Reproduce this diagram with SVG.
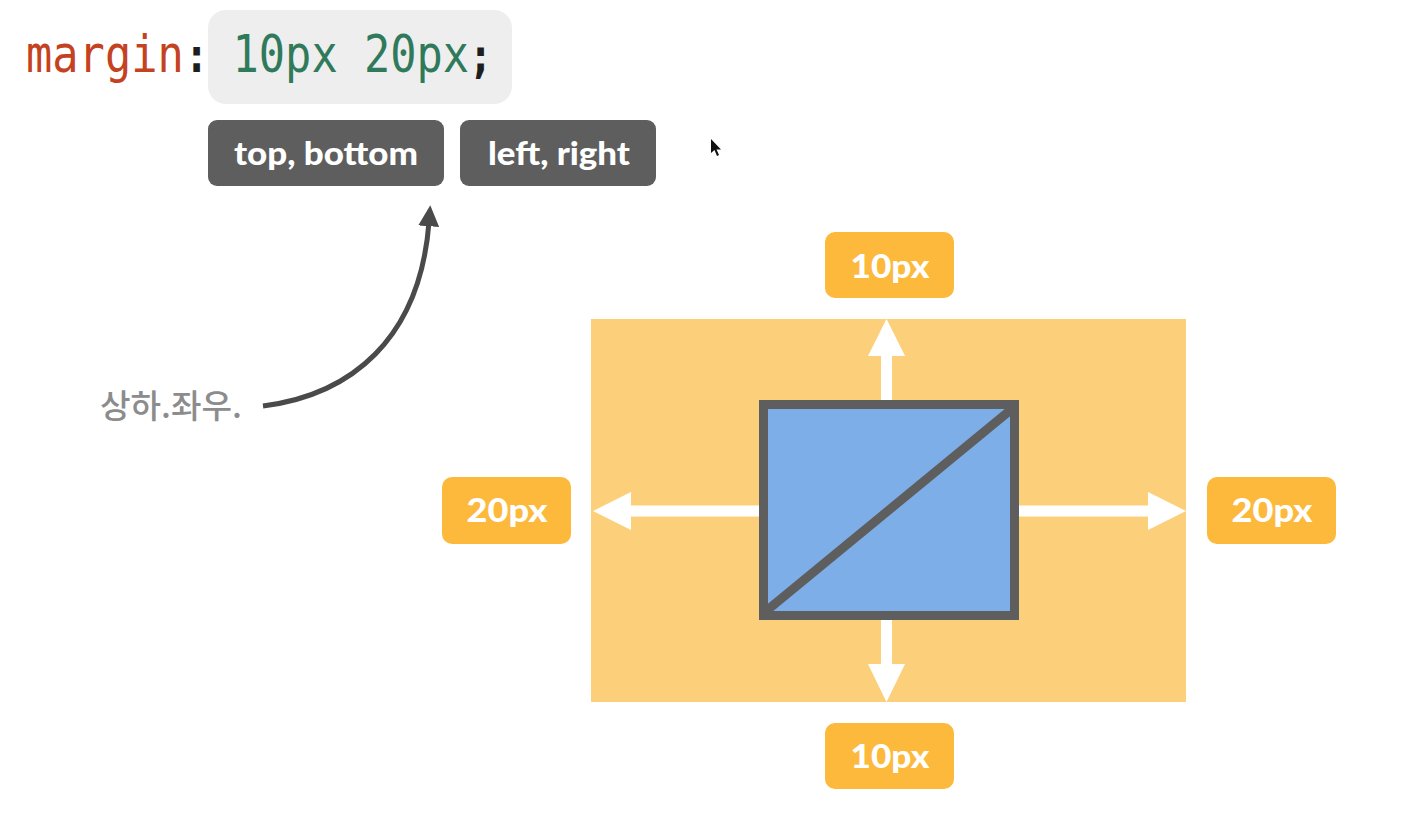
<svg xmlns="http://www.w3.org/2000/svg" width="1418" height="831" viewBox="0 0 1418 831">
<defs>
<style>
.code{font-family:"DejaVu Sans Mono","Liberation Mono",monospace;font-size:52px}
.punct{font-family:"DejaVu Sans Mono","Liberation Mono",monospace;font-size:48px;font-weight:bold;fill:#1e1e1e}
.tag{fill:#5e5e5e}
.tagt{font-family:Lato,"Noto Sans",sans-serif;font-weight:900;font-size:32px;fill:#ffffff;text-anchor:middle}
.lab{fill:#fcb93c}
.labt{font-family:Lato,"Noto Sans",sans-serif;font-weight:900;font-size:33px;fill:#ffffff;text-anchor:middle}
.warrow{fill:#ffffff}
</style>
<marker id="ah" viewBox="0 0 10 10" refX="2" refY="5" markerWidth="4.2" markerHeight="4.2" orient="auto" markerUnits="strokeWidth">
<path d="M0,0 L10,5 L0,10 Z" fill="#4a4a4a"/>
</marker>
</defs>
<rect width="1418" height="831" fill="#ffffff"/>

<g id="code">
<rect x="208" y="10" width="304" height="94" rx="18" fill="#eeeeee"/>
<g transform="translate(26,72) scale(0.84,1)"><text class="code" x="0" y="0" fill="#c4421f">margin</text></g>
<g transform="translate(184.5,72) scale(0.84,1)"><text class="punct" x="0" y="0">:</text></g>
<g transform="translate(232.5,72) scale(0.84,1)"><text class="code" x="0" y="0" fill="#2e7a5a">10px 20px</text></g>
<g transform="translate(468.5,72) scale(0.84,1)"><text class="punct" x="0" y="0">;</text></g>
</g>

<g id="tag-topbottom">
<rect class="tag" x="208" y="120" width="236" height="66" rx="9"/>
<text class="tagt" x="326" y="165" textLength="184" lengthAdjust="spacingAndGlyphs">top, bottom</text>
</g>
<g id="tag-leftright">
<rect class="tag" x="460" y="120" width="196" height="66" rx="9"/>
<text class="tagt" x="559" y="165" textLength="142" lengthAdjust="spacingAndGlyphs">left, right</text>
</g>

<g id="note">
<text x="100" y="418" font-family="'Noto Sans CJK KR',sans-serif" font-weight="500" font-size="33" fill="#8c8c8c" textLength="142" lengthAdjust="spacingAndGlyphs">상하.좌우.</text>
</g>

<g id="box">
<rect x="591" y="319" width="595" height="383" fill="#fcd07b"/>
<rect x="763.5" y="404.5" width="251" height="211" fill="#7eaee8" stroke="#5e5e5e" stroke-width="9"/>
<line x1="765" y1="612" x2="1013" y2="408" stroke="#5e5e5e" stroke-width="9"/>
</g>

<g id="connectors">
<path d="M263,406 C350,395 420,340 429,222" fill="none" stroke="#4a4a4a" stroke-width="5" marker-end="url(#ah)"/>
<rect class="warrow" x="881" y="352" width="11" height="48"/>
<polygon class="warrow" points="886.5,319 905,356 868,356"/>
<rect class="warrow" x="881" y="620" width="11" height="46"/>
<polygon class="warrow" points="886.5,702 905,664 868,664"/>
<rect class="warrow" x="628" y="505.5" width="131" height="11"/>
<polygon class="warrow" points="593,511 631,492 631,530"/>
<rect class="warrow" x="1019" y="505.5" width="131" height="11"/>
<polygon class="warrow" points="1186,511 1148,492 1148,530"/>
</g>

<g id="label-top">
<rect class="lab" x="825" y="232" width="129" height="66" rx="10"/>
<text class="labt" x="890" y="278" textLength="79" lengthAdjust="spacingAndGlyphs">10px</text>
</g>
<g id="label-bottom">
<rect class="lab" x="825" y="723" width="129" height="66" rx="10"/>
<text class="labt" x="890" y="768" textLength="79" lengthAdjust="spacingAndGlyphs">10px</text>
</g>
<g id="label-left">
<rect class="lab" x="442" y="477" width="129" height="67" rx="10"/>
<text class="labt" x="507" y="522" textLength="81" lengthAdjust="spacingAndGlyphs">20px</text>
</g>
<g id="label-right">
<rect class="lab" x="1207" y="477" width="129" height="67" rx="10"/>
<text class="labt" x="1272" y="522" textLength="81" lengthAdjust="spacingAndGlyphs">20px</text>
</g>

<g id="cursor">
<path d="M711,139 L711,153 L714.5,150 L717,156 L719,155 L716.5,149.5 L721,149.5 Z" fill="#111111"/>
</g>
</svg>
